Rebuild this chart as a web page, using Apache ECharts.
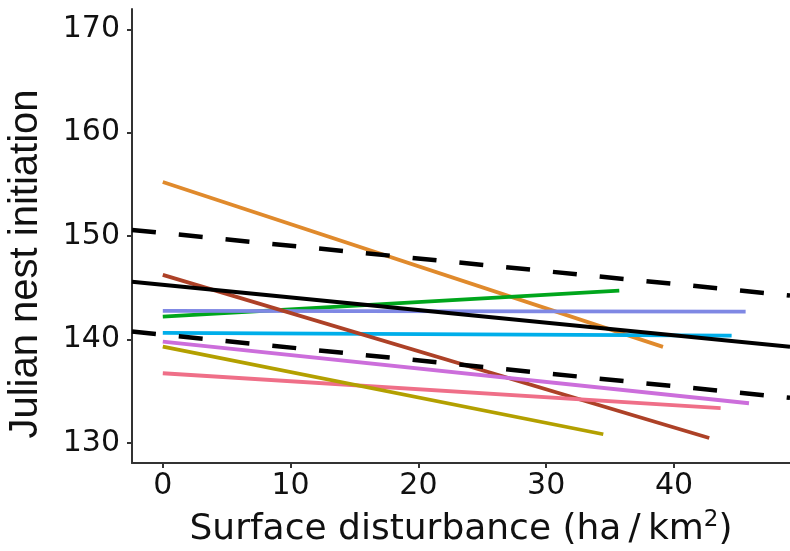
<!DOCTYPE html>
<html>
<head>
<meta charset="utf-8">
<script src="https://cdn.jsdelivr.net/npm/echarts@6/dist/echarts.min.js"></script>
<style>html,body{margin:0;padding:0;background:#fff;}#c{width:790px;height:551px;}</style>
</head>
<body>
<div id="c"></div>
<script>
// Group-level fitted lines (start/end of each group's x range)
const groupColors = ['#E08A2C', '#00A61C', '#7F88E4', '#00AEEA', '#AD4127', '#CC6EDB', '#EF6F88', '#B3A000'];
const groupX0 = [0, 0, 0, 0, 0, 0, 0, 0];
const groupX1 = [39.14, 35.72, 45.61, 44.51, 42.76, 45.87, 43.65, 34.47];
const groupY0 = [155.23, 142.21, 142.76, 140.63, 146.24, 139.79, 136.73, 139.30];
const groupY1 = [139.28, 144.72, 142.69, 140.37, 130.47, 133.83, 133.35, 130.83];

// Overall fit and confidence bounds
const fitX = [-2.41, 49.08];
const fitY = [145.59, 139.30];
const upperY = [150.59, 144.25];
const lowerY = [140.76, 134.35];

// Axis ticks
const xTicks = [0, 10, 20, 30, 40];
const yTicks = [130, 140, 150, 160, 170];

const chart = echarts.init(document.getElementById('c'), null, {renderer: 'canvas'});

const series = [];
for (let i = 0; i < groupColors.length; i++) {
  series.push({
    type: 'line', showSymbol: false, silent: true, clip: true,
    data: [[groupX0[i], groupY0[i]], [groupX1[i], groupY1[i]]],
    lineStyle: {color: groupColors[i], width: 3.8, cap: 'butt'}
  });
}
series.push({
  type: 'line', showSymbol: false, silent: true, clip: true,
  data: fitX.map((x, i) => [x, upperY[i]]),
  lineStyle: {color: '#000', width: 4.5, type: [24, 23], cap: 'butt'}
});
series.push({
  type: 'line', showSymbol: false, silent: true, clip: true,
  data: fitX.map((x, i) => [x, lowerY[i]]),
  lineStyle: {color: '#000', width: 4.5, type: [24, 23], cap: 'butt'}
});
series.push({
  type: 'line', showSymbol: false, silent: true, clip: true,
  data: fitX.map((x, i) => [x, fitY[i]]),
  lineStyle: {color: '#000', width: 4, cap: 'butt'}
});

const axisCol = '#333';
chart.setOption({
  animation: false,
  backgroundColor: '#fff',
  grid: {left: 132, right: 0, top: 9, bottom: 88, containLabel: false, outerBoundsMode: 'none'},
  xAxis: {
    type: 'value', min: -2.41, max: 49.08,
    splitLine: {show: false},
    axisLine: {show: true, onZero: false, lineStyle: {color: axisCol, width: 2}},
    axisTick: {show: true, length: 5, lineStyle: {color: axisCol, width: 2}, customValues: xTicks},
    axisLabel: {customValues: xTicks, color: '#111', fontFamily: 'DejaVu Sans', fontSize: 30, margin: 8},
    name: '{a|Surface disturbance (ha\u2009/\u2009km}{s|2}{a|)}',
    nameLocation: 'middle', nameGap: 46,
    nameTextStyle: {
      rich: {
        a: {fontFamily: 'DejaVu Sans', fontSize: 36, color: '#111', lineHeight: 42},
        s: {fontFamily: 'DejaVu Sans', fontSize: 23, color: '#111', verticalAlign: 'top', lineHeight: 42, padding: [0, 0, 23, 0]}
      }
    }
  },
  yAxis: {
    type: 'value', min: 128.05, max: 171.96,
    splitLine: {show: false},
    axisLine: {show: true, onZero: false, lineStyle: {color: axisCol, width: 2}},
    axisTick: {show: true, length: 5, lineStyle: {color: axisCol, width: 2}, customValues: yTicks},
    axisLabel: {customValues: yTicks, color: '#111', fontFamily: 'DejaVu Sans', fontSize: 30, margin: 12},
    name: 'Julian nest initiation',
    nameLocation: 'middle', nameGap: 86,
    nameTextStyle: {fontFamily: 'Liberation Sans', fontSize: 40, color: '#111', padding: [0, 56, 0, 0]}
  },
  series: series
});
</script>
</body>
</html>
